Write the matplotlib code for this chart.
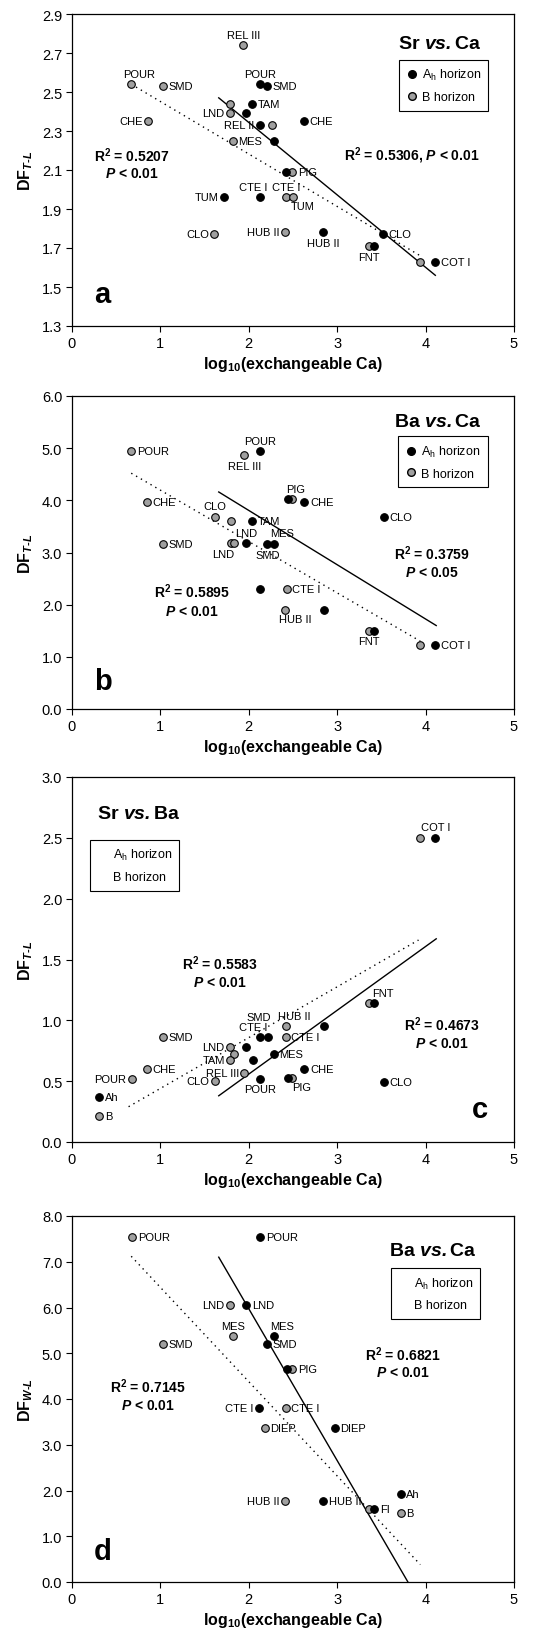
import matplotlib
matplotlib.use('Agg')
import matplotlib.pyplot as plt
from matplotlib.lines import Line2D

plt.rcParams['font.family'] = ['Liberation Sans', 'DejaVu Sans']
plt.rcParams['mathtext.fontset'] = 'custom'
plt.rcParams['mathtext.rm'] = 'Liberation Sans'
plt.rcParams['mathtext.it'] = 'Liberation Sans:italic'
plt.rcParams['mathtext.bf'] = 'Liberation Sans:bold'
plt.rcParams['mathtext.bfit'] = 'Liberation Sans:italic:bold'

# ---- panel a: Sr vs Ca ----
a_ah_names = ['POUR', 'SMD', 'TAM', 'LND', 'REL II', 'MES', 'CHE', 'PIG', 'TUM', 'CTE I', 'HUB II', 'FNT', 'CLO', 'COT I']
a_ah_x = [2.13, 2.21, 2.04, 1.97, 2.13, 2.28, 2.62, 2.42, 1.72, 2.13, 2.84, 3.42, 3.52, 4.11]
a_ah_y = [2.54, 2.53, 2.44, 2.39, 2.33, 2.25, 2.35, 2.09, 1.96, 1.96, 1.78, 1.71, 1.77, 1.63]
a_b_names = ['POUR', 'SMD', 'REL III', 'CHE', 'TAM', 'LND', 'REL II', 'MES', 'PIG', 'CTE I', 'TUM', 'CLO', 'HUB II', 'FNT', 'COT I']
a_b_x = [0.67, 1.03, 1.94, 0.86, 1.79, 1.79, 2.26, 1.82, 2.49, 2.42, 2.50, 1.61, 2.41, 3.36, 3.94]
a_b_y = [2.54, 2.53, 2.74, 2.35, 2.44, 2.39, 2.33, 2.25, 2.09, 1.96, 1.96, 1.77, 1.78, 1.71, 1.63]
a_fit_ah = ([1.66, 4.11], [2.47, 1.56])
a_fit_b = ([0.67, 3.94], [2.54, 1.66])

# ---- panel b: Ba vs Ca ----
b_ah_names = ['POUR', 'PIG', 'CHE', 'TAM', 'CLO', 'LND', 'SMD', 'MES', 'CTE I', 'HUB II', 'FNT', 'COT I']
b_ah_x = [2.13, 2.44, 2.63, 2.04, 3.53, 1.97, 2.21, 2.28, 2.13, 2.85, 3.42, 4.11]
b_ah_y = [4.94, 4.02, 3.97, 3.61, 3.69, 3.18, 3.16, 3.17, 2.30, 1.90, 1.50, 1.22]
b_b_names = ['POUR', 'REL III', 'PIG', 'CHE', 'CLO', 'TAM', 'SMD', 'LND', 'REL II', 'CTE I', 'HUB II', 'FNT', 'COT I']
b_b_x = [0.67, 1.95, 2.49, 0.85, 1.62, 1.80, 1.03, 1.80, 1.83, 2.43, 2.41, 3.36, 3.94]
b_b_y = [4.94, 4.87, 4.02, 3.97, 3.69, 3.61, 3.16, 3.18, 3.18, 2.30, 1.90, 1.50, 1.22]
b_fit_ah = ([1.66, 4.12], [4.16, 1.60])
b_fit_b = ([0.67, 3.94], [4.52, 1.30])

# ---- panel c: Sr vs Ba ----
c_ah_names = ['COT I', 'FNT', 'HUB II', 'CTE I', 'SMD', 'LND', 'MES', 'TAM', 'CHE', 'POUR', 'PIG', 'CLO', 'Ah']
c_ah_x = [4.11, 3.42, 2.85, 2.13, 2.22, 1.97, 2.28, 2.05, 2.63, 2.13, 2.44, 3.53, 0.31]
c_ah_y = [2.50, 1.14, 0.95, 0.86, 0.86, 0.78, 0.72, 0.67, 0.60, 0.52, 0.53, 0.49, 0.37]
c_b_names = ['COT I', 'FNT', 'HUB II', 'SMD', 'CTE I', 'LND', 'REL II', 'TAM', 'CHE', 'REL III', 'POUR', 'CLO', 'PIG', 'B']
c_b_x = [3.94, 3.36, 2.42, 1.03, 2.42, 1.79, 1.83, 1.79, 0.85, 1.95, 0.68, 1.62, 2.49, 0.31]
c_b_y = [2.50, 1.14, 0.95, 0.86, 0.86, 0.78, 0.72, 0.67, 0.60, 0.57, 0.52, 0.50, 0.53, 0.21]
c_fit_ah = ([1.66, 4.12], [0.38, 1.67])
c_fit_b = ([0.64, 3.92], [0.29, 1.66])

# ---- panel d: Ba vs Ca (W-L) ----
d_ah_names = ['POUR', 'LND', 'MES', 'SMD', 'PIG', 'CTE I', 'DIEP', 'HUB II', 'FI', 'Ah']
d_ah_x = [2.13, 1.97, 2.28, 2.21, 2.43, 2.12, 2.97, 2.84, 3.42, 3.72]
d_ah_y = [7.54, 6.06, 5.37, 5.20, 4.65, 3.81, 3.37, 1.78, 1.60, 1.93]
d_b_names = ['POUR', 'LND', 'MES', 'SMD', 'PIG', 'CTE I', 'DIEP', 'HUB II', 'FI', 'B']
d_b_x = [0.68, 1.79, 1.82, 1.03, 2.49, 2.42, 2.18, 2.41, 3.36, 3.72]
d_b_y = [7.54, 6.06, 5.37, 5.20, 4.65, 3.81, 3.37, 1.78, 1.60, 1.51]
d_fit_ah = ([1.66, 3.80], [7.10, 0.0])
d_fit_b = ([0.67, 3.94], [7.12, 0.38])

# label placement codes, one per point ('' = no label)
a_ah_pos = ['a', 'r', 'r', '', 'l', '', 'r', '', 'l', 'aL', 'b', '', 'r', 'r']
a_b_pos = ['aR', 'r', 'a', 'l', '', 'l', '', 'r', 'r', 'a', 'bR', 'l', 'l', 'b', '']
b_ah_pos = ['a', 'aR', 'r', 'r', 'r', 'a', 'b', 'aR', '', '', '', 'r']
b_b_pos = ['r', 'b', '', 'r', 'a', '', 'r', 'bL', '', 'r', 'bR', 'b', '']
c_ah_pos = ['a', 'aR', '', 'aL', 'a2', '', 'r', '', 'r', 'b', '', 'r', 'r']
c_b_pos = ['', '', 'aR', 'r', 'r', 'l', '', 'l', 'r', 'l', 'l', 'l', 'bR', 'r']
d_ah_pos = ['r', 'r', 'aR', 'r', '', 'l', 'r', 'r', 'r', 'r']
d_b_pos = ['r', 'l', 'a', 'r', 'r', 'r', 'r', 'l', '', 'r']

OFFSETS = {
    'r': (4, 0, 'left', 'center'),
    'l': (-4, 0, 'right', 'center'),
    'a': (0, 4, 'center', 'bottom'),
    'b': (0, -4, 'center', 'top'),
    'aR': (6, 4, 'center', 'bottom'),
    'aL': (-5, 4, 'center', 'bottom'),
    'a2': (-7, 11, 'center', 'bottom'),
    'bR': (7, -3, 'center', 'top'),
    'bL': (-6, -4, 'center', 'top'),
}

GRAY = '#a0a0a0'
W, H = 546, 1633
fig = plt.figure(figsize=(W / 100, H / 100), dpi=100)


def make_axes(top_px, bottom_px):
    return fig.add_axes([72 / W, 1 - bottom_px / H, 442 / W, (bottom_px - top_px) / H])


def points(ax, xs, ys, names, pos, color):
    ax.scatter(xs, ys, s=30, c=color, edgecolors='black', linewidths=0.8, zorder=3, clip_on=False)
    for x, y, n, p in zip(xs, ys, names, pos):
        if p:
            dx, dy, ha, va = OFFSETS[p]
            ax.annotate(n, (x, y), xytext=(dx, dy), textcoords='offset points',
                        ha=ha, va=va, fontsize=8, zorder=4)


def setup(ax, ylim, step, fmt, ylab):
    ax.set_xlim(0, 5)
    ax.set_xticks(range(6))
    ax.set_ylim(*ylim)
    ticks = []
    v = ylim[0]
    while v <= ylim[1] + 1e-9:
        ticks.append(round(v, 2))
        v += step
    ax.set_yticks(ticks)
    ax.set_yticklabels([fmt % t for t in ticks])
    ax.tick_params(direction='out', length=4, width=0.8, labelsize=10.5, pad=3)
    for s in ax.spines.values():
        s.set_linewidth(0.9)
    ax.set_xlabel('log$_\\mathbf{10}$(exchangeable Ca)', fontsize=11.5, fontweight='bold', labelpad=3)
    ax.set_ylabel(ylab, fontsize=11.5, fontweight='bold', labelpad=5)


def fits(ax, fit_ah, fit_b):
    ax.plot(fit_ah[0], fit_ah[1], color='black', lw=1.0, zorder=2)
    ax.plot(fit_b[0], fit_b[1], color='black', lw=1.0, ls=(0, (1, 3)), zorder=2)


def legend(ax, x, y, markers):
    if markers:
        hs = [Line2D([], [], ls='none', marker='o', mfc='black', mec='black', ms=5.5),
              Line2D([], [], ls='none', marker='o', mfc=GRAY, mec='black', ms=5.5)]
    else:
        hs = [Line2D([], [], ls='none'), Line2D([], [], ls='none')]
    leg = ax.legend(hs, ['A$_\\mathrm{h}$ horizon', 'B horizon'], loc='upper left',
                    bbox_to_anchor=(x, y), fancybox=False, edgecolor='black', framealpha=1,
                    fontsize=9, handlelength=0.8, handletextpad=0.4, borderpad=0.6,
                    labelspacing=0.7, borderaxespad=0)
    leg.get_frame().set_linewidth(0.8)


def txt(ax, x, y, s, size=10, ha='center'):
    ax.text(x, y, s, transform=ax.transAxes, fontsize=size, fontweight='bold', ha=ha, va='center')


DF_TL = 'DF$_{\\mathbfit{T\u2010L}}$'
DF_WL = 'DF$_{\\mathbfit{W\u2010L}}$'

# panel a
ax = make_axes(15, 327)
setup(ax, (1.3, 2.9), 0.2, '%.1f', DF_TL)
fits(ax, a_fit_ah, a_fit_b)
points(ax, a_b_x, a_b_y, a_b_names, a_b_pos, GRAY)
points(ax, a_ah_x, a_ah_y, a_ah_names, a_ah_pos, 'black')
legend(ax, 0.740, 0.853, True)
txt(ax, 0.833, 0.904, 'Sr $\\mathbfit{vs.}$Ca', 14)
txt(ax, 0.136, 0.548, 'R$^\\mathbf{2}$ = 0.5207')
txt(ax, 0.136, 0.490, '$\\mathbfit{P}$ < 0.01')
txt(ax, 0.769, 0.548, 'R$^\\mathbf{2}$ = 0.5306, $\\mathbfit{P}$ < 0.01')
txt(ax, 0.05, 0.103, 'a', 21, 'left')

# panel b
ax = make_axes(397, 710)
setup(ax, (0.0, 6.0), 1.0, '%.1f', DF_TL)
fits(ax, b_fit_ah, b_fit_b)
points(ax, b_b_x, b_b_y, b_b_names, b_b_pos, GRAY)
points(ax, b_ah_x, b_ah_y, b_ah_names, b_ah_pos, 'black')
legend(ax, 0.738, 0.871, True)
txt(ax, 0.828, 0.920, 'Ba $\\mathbfit{vs.}$Ca', 14)
txt(ax, 0.814, 0.498, 'R$^\\mathbf{2}$ = 0.3759')
txt(ax, 0.814, 0.438, '$\\mathbfit{P}$ < 0.05')
txt(ax, 0.271, 0.377, 'R$^\\mathbf{2}$ = 0.5895')
txt(ax, 0.271, 0.313, '$\\mathbfit{P}$ < 0.01')
txt(ax, 0.05, 0.089, 'b', 21, 'left')

# panel c
ax = make_axes(778, 1143)
setup(ax, (0.0, 3.0), 0.5, '%.1f', DF_TL)
fits(ax, c_fit_ah, c_fit_b)
points(ax, c_b_x, c_b_y, c_b_names, c_b_pos, GRAY)
points(ax, c_ah_x, c_ah_y, c_ah_names, c_ah_pos, 'black')
legend(ax, 0.041, 0.828, False)
txt(ax, 0.056, 0.899, 'Sr $\\mathbfit{vs.}$Ba', 14, 'left')
txt(ax, 0.335, 0.490, 'R$^\\mathbf{2}$ = 0.5583')
txt(ax, 0.335, 0.438, '$\\mathbfit{P}$ < 0.01')
txt(ax, 0.837, 0.323, 'R$^\\mathbf{2}$ = 0.4673')
txt(ax, 0.837, 0.271, '$\\mathbfit{P}$ < 0.01')
txt(ax, 0.905, 0.09, 'c', 21, 'left')

# panel d
ax = make_axes(1217, 1583)
setup(ax, (0.0, 8.0), 1.0, '%.1f', DF_WL)
fits(ax, d_fit_ah, d_fit_b)
points(ax, d_b_x, d_b_y, d_b_names, d_b_pos, GRAY)
points(ax, d_ah_x, d_ah_y, d_ah_names, d_ah_pos, 'black')
legend(ax, 0.722, 0.858, False)
txt(ax, 0.817, 0.907, 'Ba $\\mathbfit{vs.}$Ca', 14)
txt(ax, 0.749, 0.623, 'R$^\\mathbf{2}$ = 0.6821')
txt(ax, 0.749, 0.574, '$\\mathbfit{P}$ < 0.01')
txt(ax, 0.172, 0.535, 'R$^\\mathbf{2}$ = 0.7145')
txt(ax, 0.172, 0.484, '$\\mathbfit{P}$ < 0.01')
txt(ax, 0.05, 0.085, 'd', 21, 'left')

fig.savefig('out.png', dpi=100)
